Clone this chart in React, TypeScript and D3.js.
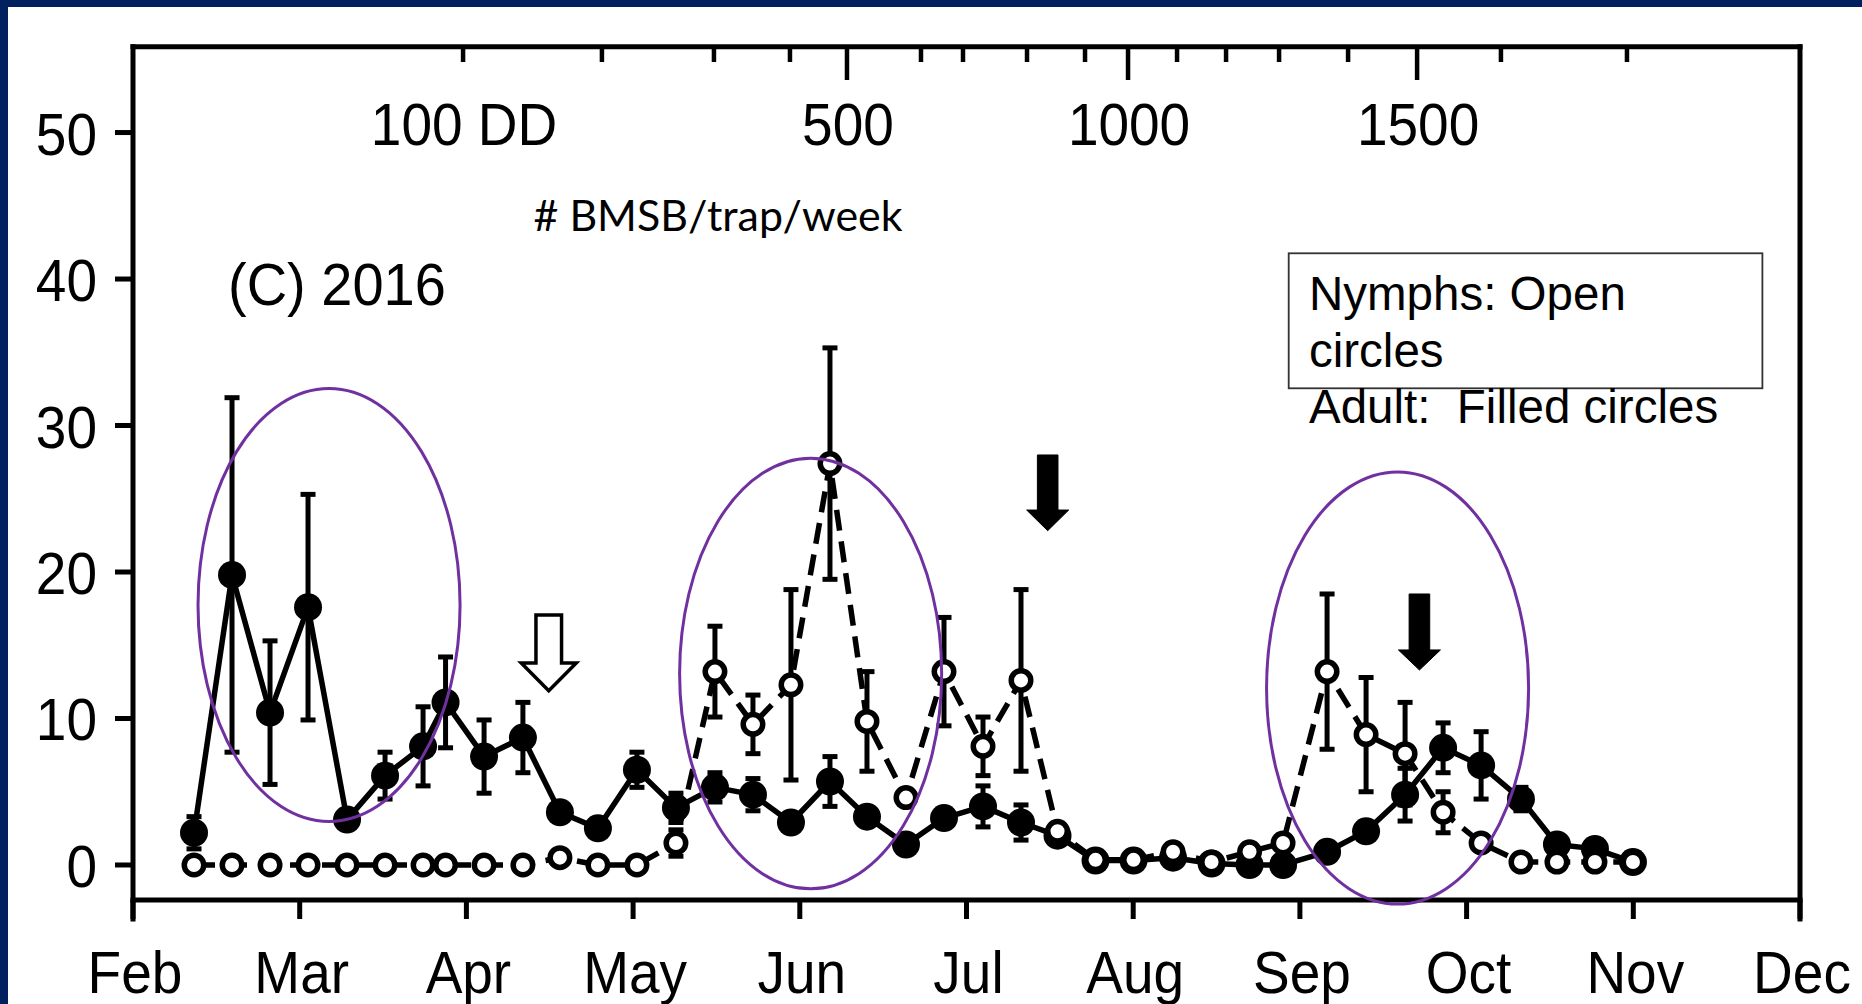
import React from 'react';
import * as d3 from 'd3';

// ---------- data ----------
const months = ['Feb', 'Mar', 'Apr', 'May', 'Jun', 'Jul', 'Aug', 'Sep', 'Oct', 'Nov', 'Dec'];

// sample dates as position on the month axis (0 = 1 Feb, 1 = 1 Mar, ...)
const samplePos = [
  0.366, 0.594, 0.822, 1.05, 1.284, 1.512, 1.74, 1.875, 2.106, 2.339,
  2.561, 2.789, 3.023, 3.257, 3.491, 3.719, 3.947, 4.181, 4.403, 4.637,
  4.865, 5.099, 5.327, 5.546, 5.774, 6.002, 6.239, 6.47, 6.698, 6.899,
  7.163, 7.397, 7.631, 7.859, 8.087, 8.326, 8.542, 8.77, 8.998,
];
const adultMean = [
  2.2, 19.8, 10.4, 17.6, 3.1, 6.1, 8.1, 11.1, 7.4, 8.7,
  3.6, 2.5, 6.5, 3.9, 5.3, 4.8, 2.9, 5.7, 3.3, 1.4,
  3.2, 4.0, 2.9, 2.0, 0.3, 0.3, 0.5, 0.1, 0.0, 0.0,
  0.9, 2.3, 4.8, 8.0, 6.8, 4.5, 1.4, 1.1, 0.2,
];
const adultSE = [
  1.1, 12.1, 4.9, 7.7, 0, 1.6, 2.7, 3.1, 2.5, 2.4,
  0, 0, 1.2, 1.0, 1.0, 1.1, 0, 1.7, 0, 0,
  0, 1.4, 1.2, 0, 0, 0, 0, 0, 0, 0,
  0, 0, 1.8, 1.7, 2.3, 0.8, 0, 0, 0,
];
const nymphMean = [
  0, 0, 0, 0, 0, 0, 0, 0, 0, 0,
  0.5, 0, 0, 1.5, 13.2, 9.6, 12.3, 27.4, 9.8, 4.6,
  13.2, 8.1, 12.6, 2.3, 0.35, 0.35, 0.9, 0.2, 0.9, 1.5,
  13.2, 8.9, 7.6, 3.6, 1.5, 0.2, 0.2, 0.2, 0.2,
];
const nymphSE = [
  0, 0, 0, 0, 0, 0, 0, 0, 0, 0,
  0, 0, 0, 0.9, 3.1, 2.0, 6.5, 7.9, 3.4, 0,
  3.7, 2.0, 6.2, 0, 0, 0, 0, 0, 0, 0,
  5.3, 3.9, 3.5, 1.4, 0, 0, 0, 0, 0,
];

const yTicks = [0, 10, 20, 30, 40, 50];

// degree-day scale on top axis (100 DD steps) and where each is reached on the month axis
const ddTickValues = [100, 200, 300, 400, 500, 600, 700, 800, 900, 1000, 1100, 1200, 1300, 1400, 1500, 1600, 1700];
const ddTickPos = [1.98, 2.813, 3.485, 3.941, 4.283, 4.727, 4.979, 5.363, 5.711, 5.969, 6.263, 6.557, 6.875, 7.289, 7.703, 8.206, 8.962];
const ddLabelValues = [100, 500, 1000, 1500];
const ddLabelTexts = ['100 DD', '500', '1000', '1500'];

// highlight ellipses (centre on month axis / count axis, radii in same units)
const ellipsePos = [1.176, 4.065, 7.586];
const ellipseVal = [17.75, 13.07, 12.08];
const ellipseRPos = [0.786, 0.786, 0.786];
const ellipseRVal = [14.78, 14.7, 14.75];

// arrows: month position, shaft top value, head base value, tip value, filled?
const arrowPos = [2.494, 5.487, 7.717];
const arrowTop = [17.06, 27.99, 18.5];
const arrowHeadBase = [13.79, 24.23, 14.68];
const arrowTip = [11.9, 22.82, 13.31];
const arrowFilled = [false, true, true];

// ---------- layout ----------
const W = 1862;
const H = 1004;
const X0 = 133;
const X1 = 1800;
const YTOP = 46.7;
const YBOT = 900;
const NAVY = '#002060';
const PURPLE = '#7030A0';
const ARIAL = "'Liberation Sans', Arial, Helvetica, sans-serif";
const STRETCH = 1.07;

export default function App() {
  const x = d3.scaleLinear().domain([0, months.length - 1]).range([X0, X1]);
  const y = d3.scaleLinear().domain([-2.39, 55.86]).range([YBOT, YTOP]);

  const pts = samplePos.map((p, i) => ({
    p,
    a: adultMean[i],
    ae: adultSE[i],
    n: nymphMean[i],
    ne: nymphSE[i],
  }));

  const adultLine = d3
    .line<typeof pts[number]>()
    .x((d) => x(d.p))
    .y((d) => y(d.a))(pts) as string;
  const nymphLine = d3
    .line<typeof pts[number]>()
    .x((d) => x(d.p))
    .y((d) => y(d.n))(pts) as string;

  const errBar = (cx: number, v: number, e: number, key: string) => {
    if (!e) return null;
    const yt = y(v + e);
    const yb = y(v - e);
    const cw = 7.5;
    return (
      <g key={key} stroke="#000" strokeWidth={5}>
        <line x1={cx} x2={cx} y1={yt} y2={yb} />
        <line x1={cx - cw} x2={cx + cw} y1={yt} y2={yt} />
        <line x1={cx - cw} x2={cx + cw} y1={yb} y2={yb} />
      </g>
    );
  };

  const stretchText = (
    tx: number,
    ty: number,
    txt: string,
    size: number,
    anchor: 'start' | 'middle' | 'end',
    key?: string
  ) => (
    <text
      key={key}
      transform={`translate(${tx},${ty}) scale(1,${STRETCH})`}
      fontFamily={ARIAL}
      fontSize={size}
      textAnchor={anchor}
      fill="#000"
    >
      {txt}
    </text>
  );

  const arrowPath = (i: number) => {
    const cx = x(arrowPos[i]);
    const yt = y(arrowTop[i]);
    const yh = y(arrowHeadBase[i]);
    const yp = y(arrowTip[i]);
    const sw = arrowFilled[i] ? 10.3 : 12.8;
    const hw = arrowFilled[i] ? 21 : 27.5;
    return `M${cx - sw},${yt}L${cx + sw},${yt}L${cx + sw},${yh}L${cx + hw},${yh}L${cx},${yp}L${cx - hw},${yh}L${cx - sw},${yh}Z`;
  };

  return (
    <svg
      width={W}
      height={H}
      viewBox={`0 0 ${W} ${H}`}
      style={{ position: 'absolute', left: 0, top: 0, background: '#fff', display: 'block' }}
    >
      <rect x={0} y={0} width={W} height={H} fill="#fff" />
      <rect x={0} y={0} width={W} height={7} fill={NAVY} />
      <rect x={0} y={0} width={8} height={H} fill={NAVY} />

      {/* frame */}
      <g stroke="#000" strokeWidth={5} fill="none" strokeLinecap="square">
        <line x1={X0} x2={X1} y1={YTOP} y2={YTOP} />
        <line x1={X0} x2={X1} y1={YBOT} y2={YBOT} />
        <line x1={X0} x2={X0} y1={YTOP} y2={919} />
        <line x1={X1} x2={X1} y1={YTOP} y2={919} />
      </g>

      {/* month ticks + labels */}
      {months.map((m, i) => (
        <g key={m}>
          <line x1={x(i)} x2={x(i)} y1={YBOT} y2={919} stroke="#000" strokeWidth={5} />
          {stretchText(x(i) + 2, 993, m, 55, 'middle')}
        </g>
      ))}

      {/* y ticks + labels */}
      {yTicks.map((t) => (
        <g key={t}>
          <line x1={115} x2={X0} y1={y(t)} y2={y(t)} stroke="#000" strokeWidth={5} />
          {stretchText(97, y(t) + 22, String(t), 55, 'end')}
        </g>
      ))}

      {/* degree-day ticks on top axis */}
      {ddTickValues.map((v, i) => {
        const long = v % 500 === 0;
        return (
          <line
            key={v}
            x1={x(ddTickPos[i])}
            x2={x(ddTickPos[i])}
            y1={YTOP}
            y2={long ? 80 : 62}
            stroke="#000"
            strokeWidth={4.5}
          />
        );
      })}
      {ddLabelValues.map((v, i) => {
        const idx = ddTickValues.indexOf(v);
        return stretchText(x(ddTickPos[idx]) + 1, 145, ddLabelTexts[i], 55, 'middle', `dd${v}`);
      })}

      {/* adults: filled circles, solid line */}
      <path d={adultLine} fill="none" stroke="#000" strokeWidth={5.5} strokeLinejoin="round" />
      {pts.map((d, i) => errBar(x(d.p), d.a, d.ae, `ae${i}`))}
      {pts.map((d, i) => (
        <circle key={`a${i}`} cx={x(d.p)} cy={y(d.a)} r={14} fill="#000" />
      ))}

      {/* nymphs: open circles, dashed line */}
      <path
        d={nymphLine}
        fill="none"
        stroke="#000"
        strokeWidth={5.5}
        strokeDasharray="21 11"
        strokeLinejoin="round"
      />
      {pts.map((d, i) => errBar(x(d.p), d.n, d.ne, `ne${i}`))}
      {pts.map((d, i) => (
        <circle key={`n${i}`} cx={x(d.p)} cy={y(d.n)} r={9.75} fill="#fff" stroke="#000" strokeWidth={5.5} />
      ))}

      {/* ellipses */}
      {ellipsePos.map((p, i) => (
        <ellipse
          key={`e${i}`}
          cx={x(p)}
          cy={y(ellipseVal[i])}
          rx={x(p + ellipseRPos[i]) - x(p)}
          ry={y(ellipseVal[i] - ellipseRVal[i]) - y(ellipseVal[i])}
          fill="none"
          stroke={PURPLE}
          strokeWidth={3}
        />
      ))}

      {/* arrows */}
      {arrowPos.map((p, i) => (
        <path
          key={`ar${i}`}
          d={arrowPath(i)}
          fill={arrowFilled[i] ? '#000' : '#fff'}
          stroke="#000"
          strokeWidth={arrowFilled[i] ? 1 : 3.5}
          strokeLinejoin="miter"
        />
      ))}

      {/* texts */}
      {stretchText(228, 305, '(C) 2016', 56, 'start')}
      <text
        x={533.5}
        y={231}
        fontFamily="Lato, 'Open Sans', sans-serif"
        fontSize={42}
        textLength={369}
        lengthAdjust="spacingAndGlyphs"
        fill="#000"
      >
        # BMSB/trap/week
      </text>

      {/* legend box */}
      <rect x={1288.7} y={253.3} width={473.7} height={135} fill="#fff" stroke="#333" strokeWidth={1.8} />
      <g fontFamily={ARIAL} fontSize={47.5} fill="#000" style={{ whiteSpace: 'pre' }}>
        <text x={1309} y={310}>Nymphs: Open</text>
        <text x={1309} y={366.7}>circles</text>
        <text x={1309} y={423.3} xmlSpace="preserve">{'Adult:  Filled circles'}</text>
      </g>
    </svg>
  );
}
